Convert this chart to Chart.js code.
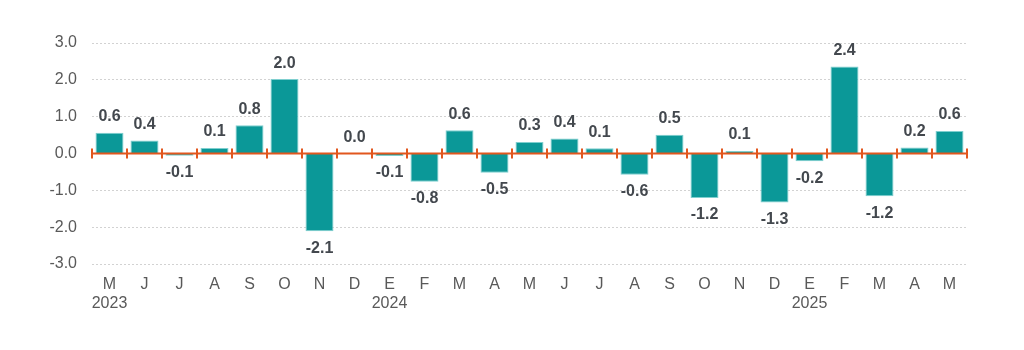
<!DOCTYPE html>
<html>
<head>
<meta charset="utf-8">
<script src="https://cdn.jsdelivr.net/npm/chart.js@4/dist/chart.umd.min.js"></script>
<style>
  html, body { margin: 0; padding: 0; background: #fff; }
  #wrap { width: 1024px; height: 350px; }
</style>
</head>
<body>
<div id="wrap"><canvas id="myChart"></canvas></div>
<script>
// months May 2023 .. May 2025
const months = ['M', 'J', 'J', 'A', 'S', 'O', 'N', 'D', 'E', 'F', 'M', 'A', 'M', 'J', 'J', 'A', 'S', 'O', 'N', 'D', 'E', 'F', 'M', 'A', 'M'];
const years = { 0: '2023', 8: '2024', 20: '2025' };
const values = [0.56, 0.35, -0.06, 0.15, 0.77, 2.02, -2.11, 0.0, -0.07, -0.77, 0.63, -0.52, 0.31, 0.41, 0.14, -0.58, 0.51, -1.21, 0.07, -1.33, -0.21, 2.36, -1.16, 0.16, 0.61];
const valueLabels = ['0.6', '0.4', '-0.1', '0.1', '0.8', '2.0', '-2.1', '0.0', '-0.1', '-0.8', '0.6', '-0.5', '0.3', '0.4', '0.1', '-0.6', '0.5', '-1.2', '0.1', '-1.3', '-0.2', '2.4', '-1.2', '0.2', '0.6'];
const yTicks = [-3, -2, -1, 0, 1, 2, 3];

const labels = months.map((m, i) => years[i] ? [m, years[i]] : m);

// orange zero line with tick marks between months
const zeroLine = {
    id: 'zeroLine',
    afterDatasetsDraw(chart) {
        const { ctx, chartArea, scales } = chart;
        const y0 = scales.y.getPixelForValue(0);
        const step = (chartArea.right - chartArea.left) / months.length;
        ctx.save();
        ctx.strokeStyle = '#e2571e';
        ctx.lineWidth = 2;
        ctx.beginPath();
        ctx.moveTo(chartArea.left, y0);
        ctx.lineTo(chartArea.right, y0);
        for (let i = 0; i <= months.length; i++) {
            const x = Math.round(chartArea.left + i * step);
            ctx.moveTo(x, y0 - 5);
            ctx.lineTo(x, y0 + 5);
        }
        ctx.stroke();
        ctx.restore();
    }
};

// value labels above / below bars
const barLabels = {
    id: 'barLabels',
    afterDatasetsDraw(chart) {
        const { ctx } = chart;
        const meta = chart.getDatasetMeta(0);
        const y0 = chart.scales.y.getPixelForValue(0);
        ctx.save();
        ctx.font = 'bold 16px "Liberation Sans", Arial, sans-serif';
        ctx.fillStyle = '#43484e';
        ctx.textAlign = 'center';
        ctx.textBaseline = 'middle';
        meta.data.forEach((bar, i) => {
            const neg = valueLabels[i].startsWith('-');
            const y = neg ? Math.max(bar.y, y0) + 17 : Math.min(bar.y, y0) - 16;
            ctx.fillText(valueLabels[i], bar.x, y);
        });
        ctx.restore();
    }
};

const ctx = document.getElementById('myChart').getContext('2d');
const myChart = new Chart(ctx, {
    type: 'bar',
    data: {
        labels: labels,
        datasets: [{
            data: values,
            backgroundColor: '#0b9898',
            borderColor: '#7fcfcf',
            borderWidth: 1,
            barPercentage: 0.8,
            categoryPercentage: 1.0
        }]
    },
    options: {
        responsive: true,
        maintainAspectRatio: false,
        animation: false,
        layout: { padding: { top: 43, right: 57, bottom: 0, left: 0 } },
        plugins: {
            legend: { display: false },
            tooltip: { enabled: false }
        },
        scales: {
            x: {
                grid: { display: false, drawTicks: false },
                border: { display: false },
                ticks: {
                    autoSkip: false,
                    maxRotation: 0,
                    padding: 11,
                    color: '#595959',
                    font: { family: '"Liberation Sans", Arial, sans-serif', size: 16, lineHeight: 1.2 }
                },
                afterFit: (scale) => { scale.height = 86; }
            },
            y: {
                min: -3,
                max: 3,
                afterBuildTicks: (scale) => { scale.ticks = yTicks.map(v => ({ value: v })); },
                grid: { color: '#d2d2d2', lineWidth: 1, drawTicks: false },
                border: { display: false, dash: [2, 2] },
                ticks: {
                    padding: 15,
                    color: '#595959',
                    font: { family: '"Liberation Sans", Arial, sans-serif', size: 16 },
                    callback: (v) => v.toFixed(1)
                },
                afterFit: (scale) => { scale.width = 92; }
            }
        }
    },
    plugins: [zeroLine, barLabels]
});
</script>
</body>
</html>
